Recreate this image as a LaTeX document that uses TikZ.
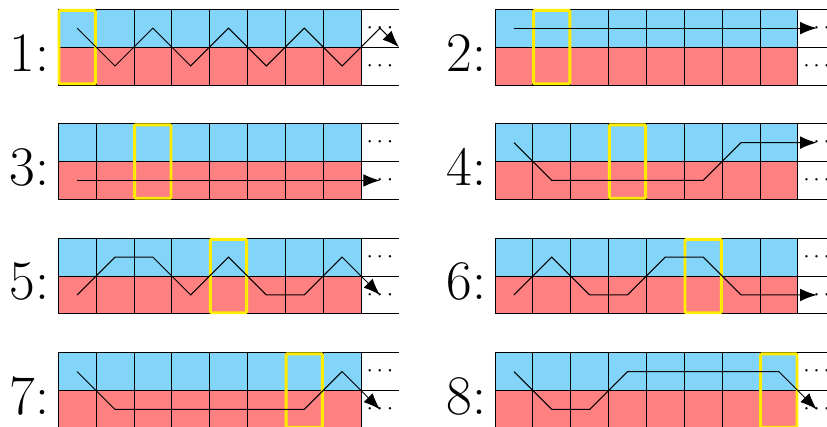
\documentclass[tikz,border=0pt]{standalone}
\usetikzlibrary{arrows.meta}
\definecolor{cellblue}{RGB}{130,212,248}
\definecolor{cellred}{RGB}{255,128,128}
\definecolor{hilite}{RGB}{255,236,0}
\tikzset{
  gridline/.style={line width=0.6pt, draw=black},
  hibox/.style={draw=hilite, line width=2.2pt, rounded corners=0.8pt},
  route/.style={line width=0.75pt, line join=miter, -{Latex[length=12.5pt,width=9.5pt]}},
  panellabel/.style={anchor=base east, inner sep=0pt, font=\fontsize{42}{48}\selectfont},
  dotsnode/.style={inner sep=0pt, font=\fontsize{17.28}{20}\selectfont},
}
\newcommand\drawpanel[5]{%
  \begin{scope}[shift={(#1,#2)}]
    \fill[cellblue] (0,1) rectangle (8,2);
    \fill[cellred] (0,0) rectangle (8,1);
    \draw[gridline] (0,0) grid (8,2);
    \draw[gridline] (8,0) -- (9,0) (8,1) -- (9,1) (8,2) -- (9,2);
    \node[dotsnode] (dotsup#3) at (8.5,1.5) {$\cdots$};
    \node[dotsnode] (dotslow#3) at (8.5,0.5) {$\cdots$};
    \node[panellabel] (label#3) at (-0.23,0.367) {#3:};
    \draw[hibox] (#4+0.02,0.03) rectangle (#4+0.98,1.97);
    \draw[route] #5;
  \end{scope}}
\begin{document}
\begin{tikzpicture}
  \useasboundingbox (-1.538,-9.038) rectangle (20.312,2.243);
  \drawpanel{0}{0}{1}{0}{(0.5,1.5) -- (1.5,0.5) -- (2.5,1.5) -- (3.5,0.5) -- (4.5,1.5) -- (5.5,0.5) -- (6.5,1.5) -- (7.5,0.5) -- (8.5,1.5) -- (9,1)}
  \drawpanel{11.54}{0}{2}{1}{(0.5,1.5) -- (8.5,1.5)}
  \drawpanel{0}{-3.025}{3}{2}{(0.5,0.5) -- (8.5,0.5)}
  \drawpanel{11.54}{-3.025}{4}{3}{(0.5,1.5) -- (1.5,0.5) -- (5.5,0.5) -- (6.5,1.5) -- (8.5,1.5)}
  \drawpanel{0}{-6.05}{5}{4}{(0.5,0.5) -- (1.5,1.5) -- (2.5,1.5) -- (3.5,0.5) -- (4.5,1.5) -- (5.5,0.5) -- (6.5,0.5) -- (7.5,1.5) -- (8.5,0.5)}
  \drawpanel{11.54}{-6.05}{6}{5}{(0.5,0.5) -- (1.5,1.5) -- (2.5,0.5) -- (3.5,0.5) -- (4.5,1.5) -- (5.5,1.5) -- (6.5,0.5) -- (8.5,0.5)}
  \drawpanel{0}{-9.075}{7}{6}{(0.5,1.5) -- (1.5,0.5) -- (6.5,0.5) -- (7.5,1.5) -- (8.5,0.5)}
  \drawpanel{11.54}{-9.075}{8}{7}{(0.5,1.5) -- (1.5,0.5) -- (2.5,0.5) -- (3.5,1.5) -- (7.5,1.5) -- (8.5,0.5)}
\end{tikzpicture}
\end{document}
